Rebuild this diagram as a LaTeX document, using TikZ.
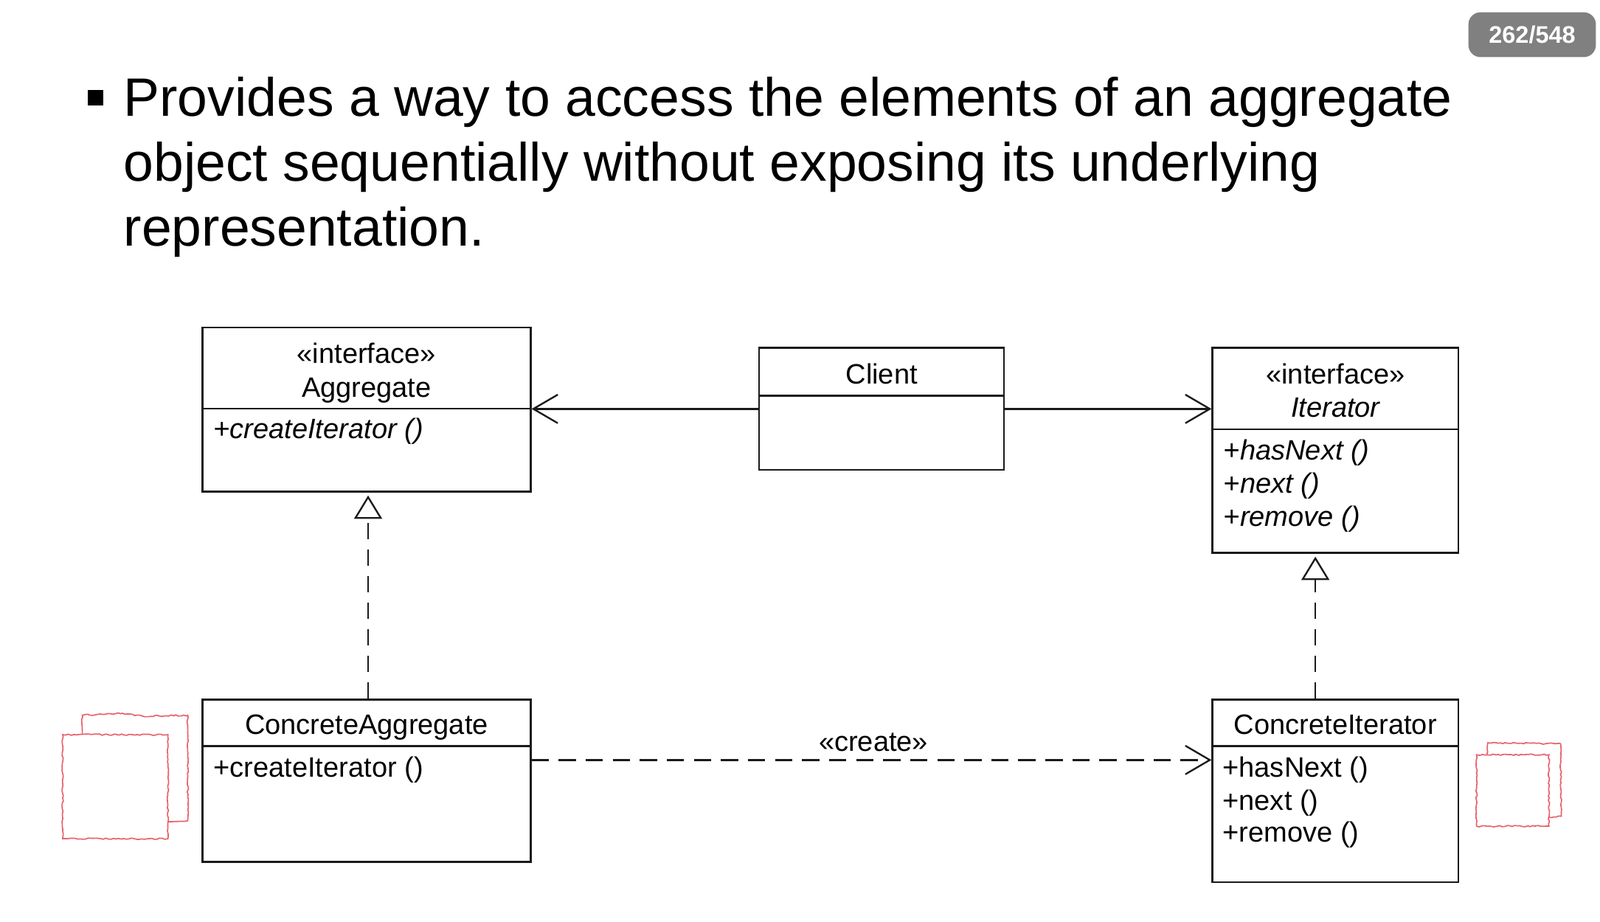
\documentclass[tikz,border=0pt]{standalone}
\usepackage{fontspec}
\setmainfont{Liberation Sans}
\usetikzlibrary{arrows.meta,decorations.pathmorphing}
\definecolor{umlline}{HTML}{1A1A1A}
\definecolor{sketchred}{HTML}{E8606A}
\definecolor{badgegray}{HTML}{808080}
\tikzset{
  umlbox/.style={draw=umlline, line width=1.9pt, inner sep=0pt, fill=white},
  divider/.style={draw=umlline, line width=1.9pt},
  umltext/.style={inner sep=0pt, font=\fontsize{27.5}{33}\selectfont, text=black},
  titletext/.style={anchor=base west, inner sep=0pt, font=\fontsize{53}{63.5}\selectfont},
  assoc/.style={draw=umlline, line width=1.7pt, -{Straight Barb[length=24pt, width=28pt, line width=1.7pt]}},
  realize/.style={draw=umlline, line width=1.7pt, dash pattern=on 16pt off 10pt, -{Triangle[open, length=23pt, width=27.5pt, line width=1.7pt, fill=white]}},
  dep/.style={draw=umlline, line width=1.7pt, dash pattern=on 17pt off 9.5pt, -{Straight Barb[length=24pt, width=28pt, line width=1.7pt]}},
  sketch/.style={draw=sketchred, line width=1.2pt, decorate, decoration={random steps, segment length=2.5pt, amplitude=0.7pt}},
}
\begin{document}
\begin{tikzpicture}[x=1pt, y=-1pt]
\useasboundingbox (0,0) rectangle (1568,903);
\fill[white] (0,0) rectangle (1568,903);

% page badge
\node[fill=badgegray, rounded corners=12pt, minimum width=125pt, minimum height=44pt, inner sep=0pt,
      text=white, font=\fontsize{23.5}{26}\selectfont\bfseries] (badge) at (1501.5,34) {262/548};

% bullet and title text
\node[fill=black, minimum size=15pt, inner sep=0pt] (bullet) at (93.5,96) {};
\node[titletext] (title1) at (121,114) {Provides a way to access the elements of an aggregate};
\node[titletext] (title2) at (121,177.5) {object sequentially without exposing its underlying};
\node[titletext] (title3) at (121,241) {representation.};

% Aggregate
\node[umlbox, minimum width=321.5pt, minimum height=160.6pt] (agg) at (359.25,401.3) {};
\draw[divider] (agg.west |- 0,400.5) -- (agg.east |- 0,400.5);
\node[umltext, anchor=base] (aggst) at (359.25,356) {«interface»};
\node[umltext, anchor=base] (aggname) at (359.25,389) {Aggregate};
\node[umltext, anchor=base west] (aggm) at (209,430) {\itshape +createIterator ()};

% Client
\node[umlbox, minimum width=240pt, minimum height=119.5pt] (client) at (864,400.75) {};
\draw[divider] (client.west |- 0,388) -- (client.east |- 0,388);
\node[umltext, anchor=base] (clientname) at (864,376.6) {Client};

% Iterator
\node[umlbox, minimum width=241pt, minimum height=200.6pt] (iter) at (1308.75,441.3) {};
\draw[divider] (iter.west |- 0,420.6) -- (iter.east |- 0,420.6);
\node[umltext, anchor=base] (iterst) at (1308.75,376.6) {«interface»};
\node[umltext, anchor=base] (itername) at (1308.75,408.5) {\itshape Iterator};
\node[umltext, anchor=base west] (iterm1) at (1199,450.5) {\itshape +hasNext ()};
\node[umltext, anchor=base west] (iterm2) at (1199,483) {\itshape +next ()};
\node[umltext, anchor=base west] (iterm3) at (1199,515.6) {\itshape +remove ()};

% ConcreteAggregate
\node[umlbox, minimum width=321.5pt, minimum height=159pt] (cagg) at (359.25,765) {};
\draw[divider] (cagg.west |- 0,731) -- (cagg.east |- 0,731);
\node[umltext, anchor=base] (caggname) at (359.25,719.3) {ConcreteAggregate};
\node[umltext, anchor=base west] (caggm) at (209,761.5) {+createIterator ()};

% ConcreteIterator
\node[umlbox, minimum width=241pt, minimum height=179.1pt] (cit) at (1308.75,775.05) {};
\draw[divider] (cit.west |- 0,731) -- (cit.east |- 0,731);
\node[umltext, anchor=base] (citname) at (1308.75,719.3) {ConcreteIterator};
\node[umltext, anchor=base west] (citm1) at (1198,761.5) {+hasNext ()};
\node[umltext, anchor=base west] (citm2) at (1198,793.8) {+next ()};
\node[umltext, anchor=base west] (citm3) at (1198,825.3) {+remove ()};

% connectors
\draw[assoc] (client.west) -- (client.west -| agg.east);
\draw[assoc] (client.east) -- (client.east -| iter.west);
\draw[realize, shorten >=3pt] ([xshift=1.5pt]cagg.north) -- ([xshift=1.5pt]agg.south);
\draw[realize, shorten >=3pt] ([xshift=-19.7pt]cit.north) -- ([xshift=-19.7pt]iter.south);
\draw[dep] ([yshift=-60.3pt]cagg.north east) -- ([yshift=-60.3pt]cit.north west);
\node[umltext, anchor=base] (createlbl) at (856,736) {«create»};

% red sketch marks
\draw[sketch] (80.7,720) -- (80.7,701) -- (120,699) -- (140,702) -- (184,701) -- (184,804.4) -- (164.6,805.5);
\draw[sketch] (61.4,720) rectangle (164.6,822);
\draw[sketch] (1457,739.7) -- (1458,728) -- (1529.4,729) -- (1530,800) -- (1518,801);
\draw[sketch] (1447,739.7) rectangle (1518,809.7);
\end{tikzpicture}
\end{document}
